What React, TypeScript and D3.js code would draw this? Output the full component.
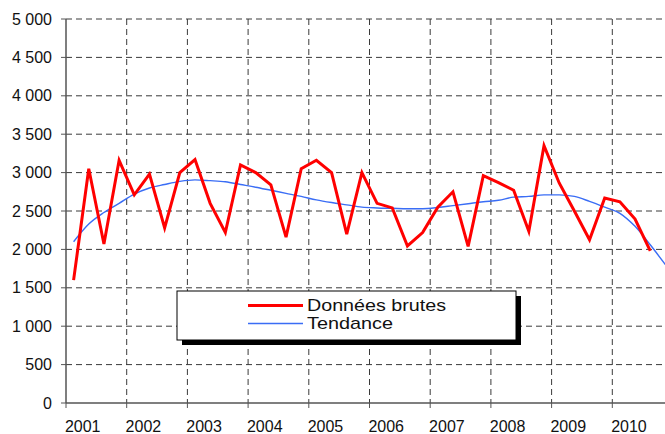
import React from 'react';
import * as d3 from 'd3';

// quarterly series, 2001 Q1 -> 2010 Q4
const years = [2001, 2002, 2003, 2004, 2005, 2006, 2007, 2008, 2009, 2010];
const quarters = years.flatMap(y => [1, 2, 3, 4].map(q => `${y}T${q}`));

// raw data stops at 2010 Q3
const rawData = [
  1600, 3050, 2070, 3160,
  2710, 2980, 2280, 3000,
  3170, 2600, 2220, 3100,
  3000, 2840, 2160, 3050,
  3160, 3000, 2200, 3000,
  2600, 2540, 2045, 2220,
  2550, 2750, 2040, 2960,
  2870, 2770, 2235, 3350,
  2865, 2500, 2125, 2670,
  2620, 2395, 1980,
];

const trendData = [
  2100, 2330, 2480, 2600,
  2720, 2800, 2845, 2885,
  2905, 2895, 2880, 2845,
  2810, 2770, 2730, 2690,
  2645, 2610, 2580, 2550,
  2540, 2535, 2530, 2530,
  2545, 2570, 2595, 2620,
  2640, 2680, 2690, 2710,
  2710, 2690, 2625, 2550,
  2470, 2300, 2060, 1800,
];

const yTicks = [0, 500, 1000, 1500, 2000, 2500, 3000, 3500, 4000, 4500, 5000];

const W = 665;
const H = 434;
const left = 66;
const top = 19;
const bottom = 403;
const right = 673; // the plot runs a little past the picture edge

const fmt = (v: number) => (v >= 1000 ? d3.format(',')(v).replace(',', ' ') : String(v));

export default function App() {
  const x = d3.scaleBand<string>().domain(quarters).range([left, right]).padding(0);
  const y = d3.scaleLinear().domain([0, 5000]).range([bottom, top]);
  const cx = (i: number) => (x(quarters[i]) as number) + x.bandwidth() / 2;

  const rawLine = d3.line<number>().x((_, i) => cx(i)).y(d => y(d));
  const trendLine = d3.line<number>().x((_, i) => cx(i)).y(d => y(d)).curve(d3.curveMonotoneX);

  const yearStart = (yr: number) => x(`${yr}T1`) as number;
  const font = "'Liberation Sans', Arial, sans-serif";
  const gridColor = '#3a3a3a';

  // legend box
  const lg = { x: 177, y: 291, w: 339, h: 49 };

  return (
    <svg width={W} height={H} style={{ position: 'absolute', left: 0, top: 0, background: '#fff' }} fontFamily={font}>
      {/* horizontal grid */}
      {yTicks.filter(t => t > 0).map(t => (
        <line key={`h${t}`} x1={left} x2={W} y1={y(t)} y2={y(t)} stroke={gridColor} strokeWidth={1} strokeDasharray="6,4" />
      ))}
      {/* vertical grid */}
      {years.slice(1).map(yr => (
        <line key={`v${yr}`} x1={yearStart(yr)} x2={yearStart(yr)} y1={top} y2={bottom} stroke={gridColor} strokeWidth={1} strokeDasharray="6,4" />
      ))}

      {/* axes */}
      <line x1={left} x2={left} y1={top} y2={bottom} stroke="#555" strokeWidth={1.5} />
      <line x1={left} x2={W} y1={bottom} y2={bottom} stroke="#555" strokeWidth={1.5} />
      {yTicks.map(t => (
        <g key={`yt${t}`}>
          <line x1={left - 5} x2={left} y1={y(t)} y2={y(t)} stroke="#555" strokeWidth={1} />
          <text x={52} y={y(t) + 5.5} textAnchor="end" fontSize={16} fill="#111">{fmt(t)}</text>
        </g>
      ))}
      {years.map(yr => (
        <g key={`xt${yr}`}>
          <line x1={yearStart(yr)} x2={yearStart(yr)} y1={bottom} y2={bottom + 5} stroke="#555" strokeWidth={1} />
          <text x={yearStart(yr) + x.bandwidth() + 1.5} y={432} textAnchor="middle" fontSize={16} fill="#111">{yr}</text>
        </g>
      ))}

      {/* series */}
      <path d={trendLine(trendData) || ''} fill="none" stroke="#3a6df5" strokeWidth={1.4} />
      <path d={rawLine(rawData) || ''} fill="none" stroke="#ff0000" strokeWidth={3} strokeLinejoin="miter" />

      {/* legend */}
      <rect x={lg.x + 5} y={lg.y + 5} width={lg.w} height={lg.h} fill="#000" />
      <rect x={lg.x} y={lg.y} width={lg.w} height={lg.h} fill="#fff" stroke="#000" strokeWidth={1} />
      <line x1={248} x2={303} y1={305.5} y2={305.5} stroke="#ff0000" strokeWidth={3} />
      <text x={307} y={311} fontSize={17} fill="#111" textLength={139} lengthAdjust="spacingAndGlyphs">Données brutes</text>
      <line x1={248} x2={303} y1={323.5} y2={323.5} stroke="#3a6df5" strokeWidth={1.4} />
      <text x={307} y={329} fontSize={17} fill="#111" textLength={86} lengthAdjust="spacingAndGlyphs">Tendance</text>
    </svg>
  );
}
